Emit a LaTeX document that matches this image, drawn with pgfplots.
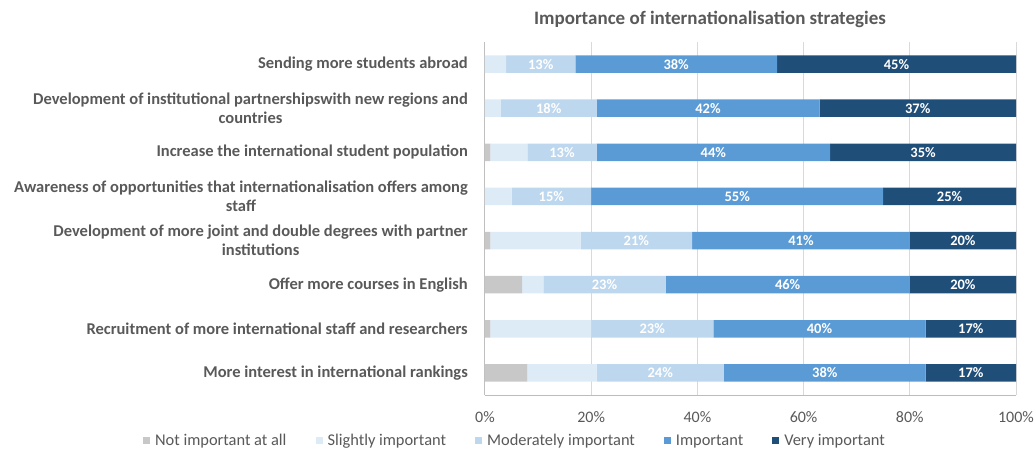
\documentclass[border=0pt]{standalone}
\usepackage{pgfplots}
\pgfplotsset{compat=1.18}
\usepackage{fontspec}
\setmainfont{Carlito}
\usepackage{xcolor}
\definecolor{txtgray}{RGB}{89,89,89}
\definecolor{gridgray}{RGB}{217,217,217}
\definecolor{axgray}{RGB}{191,191,191}
\definecolor{axblue}{RGB}{157,195,230}
\definecolor{cnot}{RGB}{200,200,200}
\definecolor{cslight}{RGB}{221,235,247}
\definecolor{cmod}{RGB}{189,215,238}
\definecolor{cimp}{RGB}{91,155,213}
\definecolor{cvery}{RGB}{31,78,121}

\begin{document}
\begin{tikzpicture}
  \begin{axis}[
    name=ax,
    at={(0pt,0pt)}, anchor=south west,
    scale only axis,
    width=531pt, height=353pt,
    xbar stacked,
    bar width=17.6pt,
    xmin=0, xmax=100,
    ymin=-0.5, ymax=7.5,
    xtick={0,20,40,60,80,100},
    xticklabel={\pgfmathprintnumber{\tick}\%},
    /pgf/number format/assume math mode=true,
    xticklabel style={font=\fontsize{16}{19}\selectfont, text=txtgray, yshift=-13pt},
    ytick={0,1,2,3,4,5,6,7},
    yticklabels={
      More interest in international rankings,
      Recruitment of more international staff and researchers,
      Offer more courses in English,
      {Development of more joint and double degrees with partner\\institutions},
      {Awareness of opportunities that internationalisation offers among\\staff},
      Increase the international student population,
      {Development of institutional partnershipswith new regions and\\countries},
      Sending more students abroad},
    yticklabel style={font=\fontsize{16.5}{19}\selectfont\bfseries, text=txtgray,
                      align=center, anchor=east, inner sep=0pt, xshift=-17pt},
    major tick length=0pt,
    xmajorgrids=true,
    grid style={gridgray, line width=1pt},
    axis lines*=left,
    separate axis lines,
    x axis line style={axblue, line width=1pt},
    y axis line style={axgray, line width=1pt},
    title={Importance of internationalisation strategies},
    title style={at={(0.4237,1.048)}, anchor=center,
                 font=\fontsize{19}{22}\selectfont\bfseries, text=txtgray},
    legend columns=5,
    legend style={at={(0.0565,-0.1303)}, anchor=center, draw=none,
                  font=\fontsize{16.4}{19}\selectfont, text=txtgray,
                  /tikz/every even column/.append style={column sep=27pt}},
    legend cell align=left,
    legend image code/.code={\fill[#1] (0pt,-3.5pt) rectangle (7pt,3.5pt); \path (10pt,0pt);},
    every axis plot/.append style={draw=none},
    lbl/.style={
      nodes near coords={\pgfmathprintnumber[fixed,precision=0]{\pgfplotspointmeta}\%},
      point meta=rawx,
      every node near coord/.append style={anchor=center, text=white,
        font=\fontsize{14.5}{17}\selectfont\bfseries},
    },
  ]
    \addplot[fill=cnot] coordinates
      {(8,0) (1,1) (7,2) (1,3) (0,4) (1,5) (0,6) (0,7)};
    \addplot[fill=cslight] coordinates
      {(13,0) (19,1) (4,2) (17,3) (5,4) (7,5) (3,6) (4,7)};
    \addplot[fill=cmod, lbl] coordinates
      {(24,0) (23,1) (23,2) (21,3) (15,4) (13,5) (18,6) (13,7)};
    \addplot[fill=cimp, lbl] coordinates
      {(38,0) (40,1) (46,2) (41,3) (55,4) (44,5) (42,6) (38,7)};
    \addplot[fill=cvery, lbl] coordinates
      {(17,0) (17,1) (20,2) (20,3) (25,4) (35,5) (37,6) (45,7)};
    \legend{Not important at all, Slightly important, Moderately important, Important, Very important}
  \end{axis}
  \pgfresetboundingbox
  \useasboundingbox (-485pt,-55pt) rectangle (551pt,395pt);
\end{tikzpicture}
\end{document}
